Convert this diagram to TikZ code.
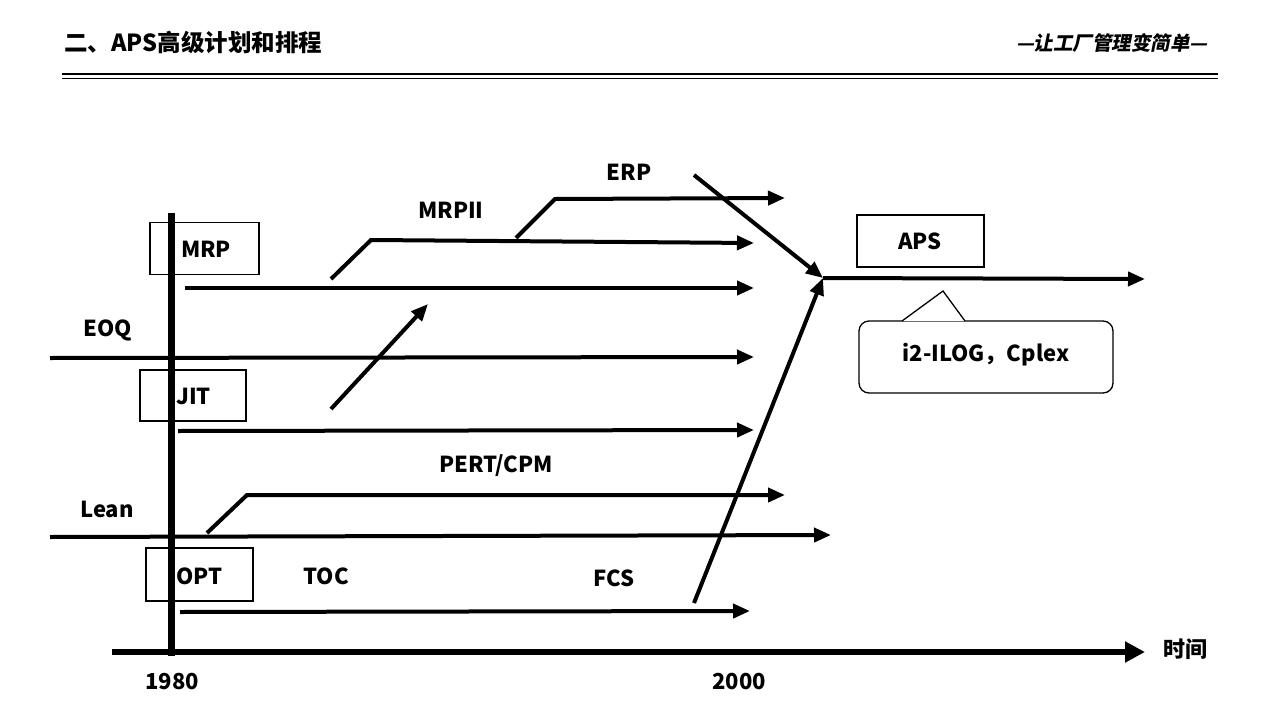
\documentclass[tikz,border=0pt]{standalone}
\usepackage{fontspec}
\setmainfont{Noto Sans CJK SC}
\newfontfamily\slantfont[FakeSlant=0.2]{Noto Sans CJK SC}
\usetikzlibrary{arrows.meta}
\begin{document}
\begin{tikzpicture}[x=1pt,y=-1pt,
  flow/.style={line width=4pt,-{Triangle[length=17pt,width=14pt]}},
  lbl/.style={font=\fontsize{22}{24}\selectfont\bfseries,inner sep=0pt},
  tbox/.style={draw,line width=1.3pt,minimum width=#1,minimum height=52pt,inner sep=0pt},
  tbox/.default=108pt]
\useasboundingbox (0,0) rectangle (1280,720);
% header
\node[anchor=west,inner sep=0pt,font=\fontsize{23.5}{26}\selectfont\bfseries] (title) at (64,42) {二、APS高级计划和排程};
\node[anchor=east,inner sep=0pt,font=\fontsize{19.5}{22}\selectfont\slantfont\bfseries] (motto) at (1208,43) {—让工厂管理变简单—};
\coordinate (hl1) at (62,74); \coordinate (hr1) at (1218,74);
\coordinate (hl2) at (62,78.5); \coordinate (hr2) at (1218,78.5);
\draw[line width=2.6pt] (hl1) -- (hr1);
\draw[line width=1pt] (hl2) -- (hr2);
% boxes
\node[tbox=109pt] (mrpbox) at (204.5,248.5) {};
\node[lbl] (mrp) at (206,249) {MRP};
\node[tbox=106pt,minimum height=51pt] (jitbox) at (193,395.5) {};
\node[lbl,anchor=west] (jit) at (176,396) {JIT};
\node[tbox=107pt,minimum height=53pt] (optbox) at (199.5,574.5) {};
\node[lbl,anchor=west] (opt) at (176,576) {OPT};
\node[tbox=127pt] (apsbox) at (920.5,241) {};
\node[lbl] (aps) at (920,241) {APS};
% time axis
\coordinate (t0) at (112,652); \coordinate (t1) at (1145,652);
\draw[line width=6pt,-{Triangle[length=20pt,width=20pt]}] (t0) -- (t1);
\node[lbl,anchor=west] (shijian) at (1163,649) {时间};
\node[lbl] (y1980) at (172,682) {1980};
\node[lbl] (y2000) at (739,682) {2000};
% vertical line
\coordinate (v0) at (171,213); \coordinate (v1) at (171,656);
\draw[line width=7pt] (v0) -- (v1);
% MRP line
\coordinate (m0) at (185,288); \coordinate (m1) at (754,288);
\draw[flow] (m0) -- (m1);
% EOQ
\node[lbl] (eoq) at (108,330) {EOQ};
\coordinate (e0) at (50,358); \coordinate (e1) at (754,357);
\draw[flow] (e0) -- (e1);
% JIT line
\coordinate (j0) at (178,431); \coordinate (j1) at (754,430);
\draw[flow] (j0) -- (j1);
% diagonal JIT->MRPII
\coordinate (d0) at (331,409); \coordinate (d1) at (428,304);
\draw[flow] (d0) -- (d1);
% MRPII
\node[lbl] (mrpii) at (451,210) {MRPII};
\coordinate (r0) at (331,279); \coordinate (r1) at (371,240); \coordinate (r2) at (754,243);
\draw[flow] (r0) -- (r1) -- (r2);
% ERP
\node[lbl] (erp) at (629,172) {ERP};
\coordinate (p0) at (516,238); \coordinate (p1) at (555,199); \coordinate (p2) at (785,198);
\draw[flow] (p0) -- (p1) -- (p2);
% converging
\coordinate (apsin) at (823,278);
\coordinate (erp0) at (694,175);
\draw[flow] (erp0) -- (apsin);
\coordinate (fcs0) at (694,603);
\draw[flow] (fcs0) -- (apsin);
% APS line
\coordinate (a1) at (1145,279);
\draw[flow] (apsin) -- (a1);
% callout
\node[draw,line width=1.3pt,rounded corners=10pt,minimum width=254pt,minimum height=72pt,inner sep=0pt] (callout) at (986,357) {};
\node[lbl] (ilog) at (986,355) {i2-ILOG，Cplex};
\coordinate (ctip) at (943,291); \coordinate (cb0) at (902,321); \coordinate (cb1) at (965,321);
\fill[white] (cb0) -- (ctip) -- (cb1) -- cycle;
\draw[line width=1.3pt] (cb0) -- (ctip) -- (cb1);
% PERT/CPM
\node[lbl] (pert) at (496,466) {PERT/CPM};
\coordinate (c0) at (207,533); \coordinate (c1) at (247,495); \coordinate (c2) at (785,495);
\draw[flow] (c0) -- (c1) -- (c2);
% Lean
\node[lbl] (lean) at (107,509) {Lean};
\coordinate (l0) at (50,537); \coordinate (l1) at (831,535);
\draw[flow] (l0) -- (l1);
% TOC, FCS
\node[lbl] (toc) at (326,576) {TOC};
\node[lbl] (fcs) at (614,578) {FCS};
% OPT line
\coordinate (o0) at (180,612); \coordinate (o1) at (750,611);
\draw[flow] (o0) -- (o1);
\end{tikzpicture}
\end{document}
